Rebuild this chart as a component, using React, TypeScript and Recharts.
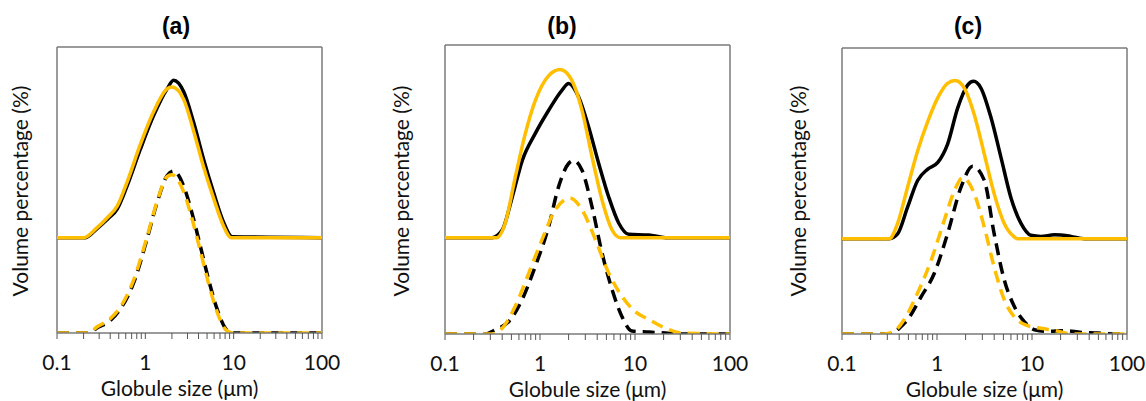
import React from 'react';
import { LineChart, Line, XAxis, YAxis, ReferenceLine } from 'recharts';

// ---------- data ----------
// Globule size (µm) sample positions and volume percentage values (arbitrary units)
const aSolidBlackX = [0.1, 0.21, 0.28, 0.38, 0.48, 0.62, 0.88, 1.24, 1.76, 2.09, 2.72, 3.52, 4.57, 5.94, 7.7, 9.6, 100];
const aSolidBlackY = [0, 0, 0.09, 0.2, 0.3, 0.54, 0.93, 1.28, 1.56, 1.65, 1.53, 1.21, 0.82, 0.47, 0.16, 0.01, 0];
const aSolidYellowX = [0.1, 0.2, 0.28, 0.38, 0.48, 0.62, 0.88, 1.24, 1.76, 2.0, 2.72, 3.52, 4.57, 5.94, 7.7, 9.4, 100];
const aSolidYellowY = [0, 0, 0.1, 0.22, 0.33, 0.58, 0.98, 1.32, 1.56, 1.58, 1.45, 1.12, 0.74, 0.41, 0.12, 0, 0];
const aDashBlackX = [0.1, 0.23, 0.28, 0.4, 0.52, 0.74, 1.04, 1.36, 1.76, 2.09, 2.72, 3.37, 4.2, 5.2, 6.5, 8.05, 9.6, 100];
const aDashBlackY = [0, 0, 0.05, 0.13, 0.25, 0.53, 0.98, 1.37, 1.65, 1.7, 1.54, 1.26, 0.91, 0.56, 0.25, 0.05, 0, 0];
const aDashYellowX = [0.1, 0.23, 0.28, 0.4, 0.52, 0.74, 1.04, 1.36, 1.76, 2.0, 2.72, 3.37, 4.2, 5.2, 6.5, 8.05, 9.6, 100];
const aDashYellowY = [0, 0, 0.06, 0.15, 0.27, 0.56, 1.0, 1.38, 1.64, 1.66, 1.48, 1.2, 0.86, 0.52, 0.22, 0.04, 0, 0];

const bSolidBlackX = [0.1, 0.31, 0.4, 0.51, 0.65, 0.89, 1.23, 1.7, 2.0, 2.55, 3.25, 4.15, 5.3, 6.75, 8.6, 14, 21, 100];
const bSolidBlackY = [0, 0, 0.08, 0.42, 0.8, 1.08, 1.32, 1.53, 1.6, 1.46, 1.15, 0.77, 0.42, 0.15, 0.035, 0.028, 0, 0];
const bSolidYellowX = [0.1, 0.35, 0.43, 0.55, 0.7, 0.89, 1.23, 1.63, 2.17, 2.77, 3.53, 4.5, 5.74, 7.0, 100];
const bSolidYellowY = [0, 0, 0.15, 0.63, 1.08, 1.42, 1.68, 1.745, 1.63, 1.32, 0.84, 0.39, 0.08, 0, 0];
const bDashBlackX = [0.1, 0.26, 0.34, 0.47, 0.65, 0.89, 1.23, 1.57, 2.0, 2.26, 2.77, 3.53, 4.5, 5.74, 7.3, 9.3, 14, 21, 31, 100];
const bDashBlackY = [0, 0, 0.045, 0.13, 0.36, 0.7, 1.11, 1.53, 1.77, 1.8, 1.7, 1.32, 0.84, 0.46, 0.18, 0.03, 0.02, 0.01, 0, 0];
const bDashYellowX = [0.1, 0.31, 0.4, 0.55, 0.76, 1.05, 1.45, 2.08, 2.77, 3.83, 5.3, 7.3, 10.1, 14, 21, 31, 100];
const bDashYellowY = [0, 0, 0.06, 0.29, 0.63, 0.98, 1.29, 1.41, 1.29, 0.98, 0.63, 0.39, 0.23, 0.15, 0.06, 0.01, 0];

const cSolidBlackX = [0.1, 0.315, 0.385, 0.49, 0.625, 0.8, 1.02, 1.29, 1.65, 2.1, 2.43, 2.9, 3.7, 4.72, 6.0, 7.66, 9.75, 12.4, 17.2, 25.7, 35.5, 100];
const cSolidBlackY = [0, 0, 0.05, 0.33, 0.61, 0.73, 0.8, 0.99, 1.37, 1.61, 1.65, 1.58, 1.27, 0.85, 0.43, 0.16, 0.035, 0.024, 0.04, 0.024, 0, 0];
const cSolidYellowX = [0.1, 0.315, 0.385, 0.49, 0.625, 0.8, 1.02, 1.29, 1.55, 1.94, 2.47, 3.15, 4.0, 5.1, 6.5, 7.0, 100];
const cSolidYellowY = [0, 0, 0.16, 0.54, 0.92, 1.23, 1.48, 1.63, 1.66, 1.58, 1.3, 0.885, 0.47, 0.16, 0.02, 0, 0];
const cDashBlackX = [0.1, 0.34, 0.385, 0.49, 0.68, 0.94, 1.29, 1.79, 2.37, 3.15, 4.0, 5.1, 6.5, 8.3, 10.6, 14.6, 21.9, 33, 49, 70, 100];
const cDashBlackY = [0, 0, 0.045, 0.15, 0.39, 0.64, 1.05, 1.54, 1.76, 1.61, 1.05, 0.57, 0.29, 0.13, 0.045, 0.028, 0.035, 0.017, 0.01, 0, 0];
const cDashYellowX = [0.1, 0.28, 0.355, 0.45, 0.625, 0.865, 1.19, 1.52, 1.86, 2.47, 3.15, 4.0, 5.1, 6.5, 9.0, 12.4, 18.6, 27, 100];
const cDashYellowY = [0, 0, 0.03, 0.15, 0.43, 0.77, 1.19, 1.5, 1.64, 1.47, 1.12, 0.7, 0.36, 0.18, 0.087, 0.06, 0.03, 0, 0];

const panelTitles = ['(a)', '(b)', '(c)'];
const xTicks = [0.1, 0.2, 0.3, 0.4, 0.5, 0.6, 0.7, 0.8, 0.9, 1, 2, 3, 4, 5, 6, 7, 8, 9, 10, 20, 30, 40, 50, 60, 70, 80, 90, 100];
const majorTicks = [0.1, 1, 10, 100];
const majorTickLabels = ['0.1', '1', '10', '100'];
const xLabel = 'Globule size (μm)';
const yLabel = 'Volume percentage (%)';

// vertical offset separating the upper (solid) curves from the lower (dashed) ones
const STACK_OFFSET = 1;

const build = (xs: number[], ys: number[], offset: number) =>
  xs.map((x, i) => ({ x, y: ys[i] + offset }));

const BLACK = '#000000';
const YELLOW = '#FFBE00';
const FRAME = '#7a7a7a';
const FONT = 'Lato, "Open Sans", sans-serif';
const FS = 21;

const panels = [
  {
    title: panelTitles[0],
    series: [
      { d: build(aSolidBlackX, aSolidBlackY, STACK_OFFSET), c: BLACK, dash: false },
      { d: build(aSolidYellowX, aSolidYellowY, STACK_OFFSET), c: YELLOW, dash: false },
      { d: build(aDashBlackX, aDashBlackY, 0), c: BLACK, dash: true },
      { d: build(aDashYellowX, aDashYellowY, 0), c: YELLOW, dash: true },
    ],
    left: 0,
    margin: { top: 47, right: 60, left: 57, bottom: 8 },
    titleX: 176,
    yLabelGap: 29,
    xLabelDx: -10,
  },
  {
    title: panelTitles[1],
    series: [
      { d: build(bSolidBlackX, bSolidBlackY, STACK_OFFSET), c: BLACK, dash: false },
      { d: build(bSolidYellowX, bSolidYellowY, STACK_OFFSET), c: YELLOW, dash: false },
      { d: build(bDashBlackX, bDashBlackY, 0), c: BLACK, dash: true },
      { d: build(bDashYellowX, bDashYellowY, 0), c: YELLOW, dash: true },
    ],
    left: 382,
    margin: { top: 45, right: 34, left: 63, bottom: 7 },
    titleX: 180,
    yLabelGap: 36,
    xLabelDx: 0,
  },
  {
    title: panelTitles[2],
    series: [
      { d: build(cSolidBlackX, cSolidBlackY, STACK_OFFSET), c: BLACK, dash: false },
      { d: build(cSolidYellowX, cSolidYellowY, STACK_OFFSET), c: YELLOW, dash: false },
      { d: build(cDashBlackX, cDashBlackY, 0), c: BLACK, dash: true },
      { d: build(cDashYellowX, cDashYellowY, 0), c: YELLOW, dash: true },
    ],
    left: 764,
    margin: { top: 48, right: 19, left: 78, bottom: 7 },
    titleX: 204,
    yLabelGap: 36,
    xLabelDx: 0,
  },
];

const LogTick = (props: any) => {
  const { x, y, payload } = props;
  const idx = majorTicks.indexOf(payload.value);
  return (
    <g>
      <line x1={x} x2={x} y1={y} y2={y + 6} stroke="#555" strokeWidth={1} />
      {idx >= 0 && (
        <text x={x} y={y + 37} textAnchor="middle" fontFamily={FONT} fontSize={FS} fill="#111">
          {majorTickLabels[idx]}
        </text>
      )}
    </g>
  );
};

const makeLabels = (p: any) => (lp: any) => {
  const vb = lp.viewBox || {};
  const L = vb.x;
  const B = vb.y;
  const W = vb.width;
  const yMid = 191;
  const yx = L - p.yLabelGap;
  return (
    <g>
      <text x={L + W / 2 + p.xLabelDx} y={B + 63} textAnchor="middle" fontFamily={FONT} fontSize={FS} fill="#111">
        {xLabel}
      </text>
      <text
        x={yx}
        y={yMid}
        textAnchor="middle"
        transform={`rotate(-90 ${yx} ${yMid})`}
        fontFamily={FONT}
        fontSize={FS}
        fill="#111"
      >
        {yLabel}
      </text>
      <text x={p.titleX} y={34} textAnchor="middle" fontFamily='"Liberation Sans", Arial, sans-serif' fontWeight="bold" fontSize={23} fill="#000">
        {p.title}
      </text>
    </g>
  );
};

const Panel = ({ p }: { p: any }) => (
  <div style={{ position: 'absolute', left: p.left, top: 0 }}>
    <LineChart width={382} height={401} margin={p.margin}>
      <XAxis
        dataKey="x"
        type="number"
        scale="log"
        domain={[0.1, 100]}
        allowDataOverflow
        ticks={xTicks}
        interval={0}
        tickSize={0}
        tickMargin={0}
        tickLine={false}
        tick={<LogTick />}
        axisLine={{ stroke: FRAME, strokeWidth: 1.5 }}
        height={60}
        label={makeLabels(p)}
      />
      <YAxis type="number" domain={[0, 3]} hide allowDataOverflow />
      <ReferenceLine x={0.1} stroke={FRAME} strokeWidth={1.5} />
      <ReferenceLine x={100} stroke={FRAME} strokeWidth={1.5} />
      <ReferenceLine y={3} stroke={FRAME} strokeWidth={1.5} />
      {p.series.map((s: any, i: number) => (
        <Line
          key={i}
          data={s.d}
          dataKey="y"
          type="monotone"
          stroke={s.c}
          strokeWidth={3.5}
          strokeDasharray={s.dash ? '12 7' : undefined}
          dot={false}
          activeDot={false}
          isAnimationActive={false}
        />
      ))}
    </LineChart>
  </div>
);

export default function App() {
  return (
    <div style={{ position: 'absolute', left: 0, top: 0, width: 1146, height: 401, background: '#fff', overflow: 'hidden' }}>
      {panels.map((p, i) => (
        <Panel key={i} p={p} />
      ))}
    </div>
  );
}
